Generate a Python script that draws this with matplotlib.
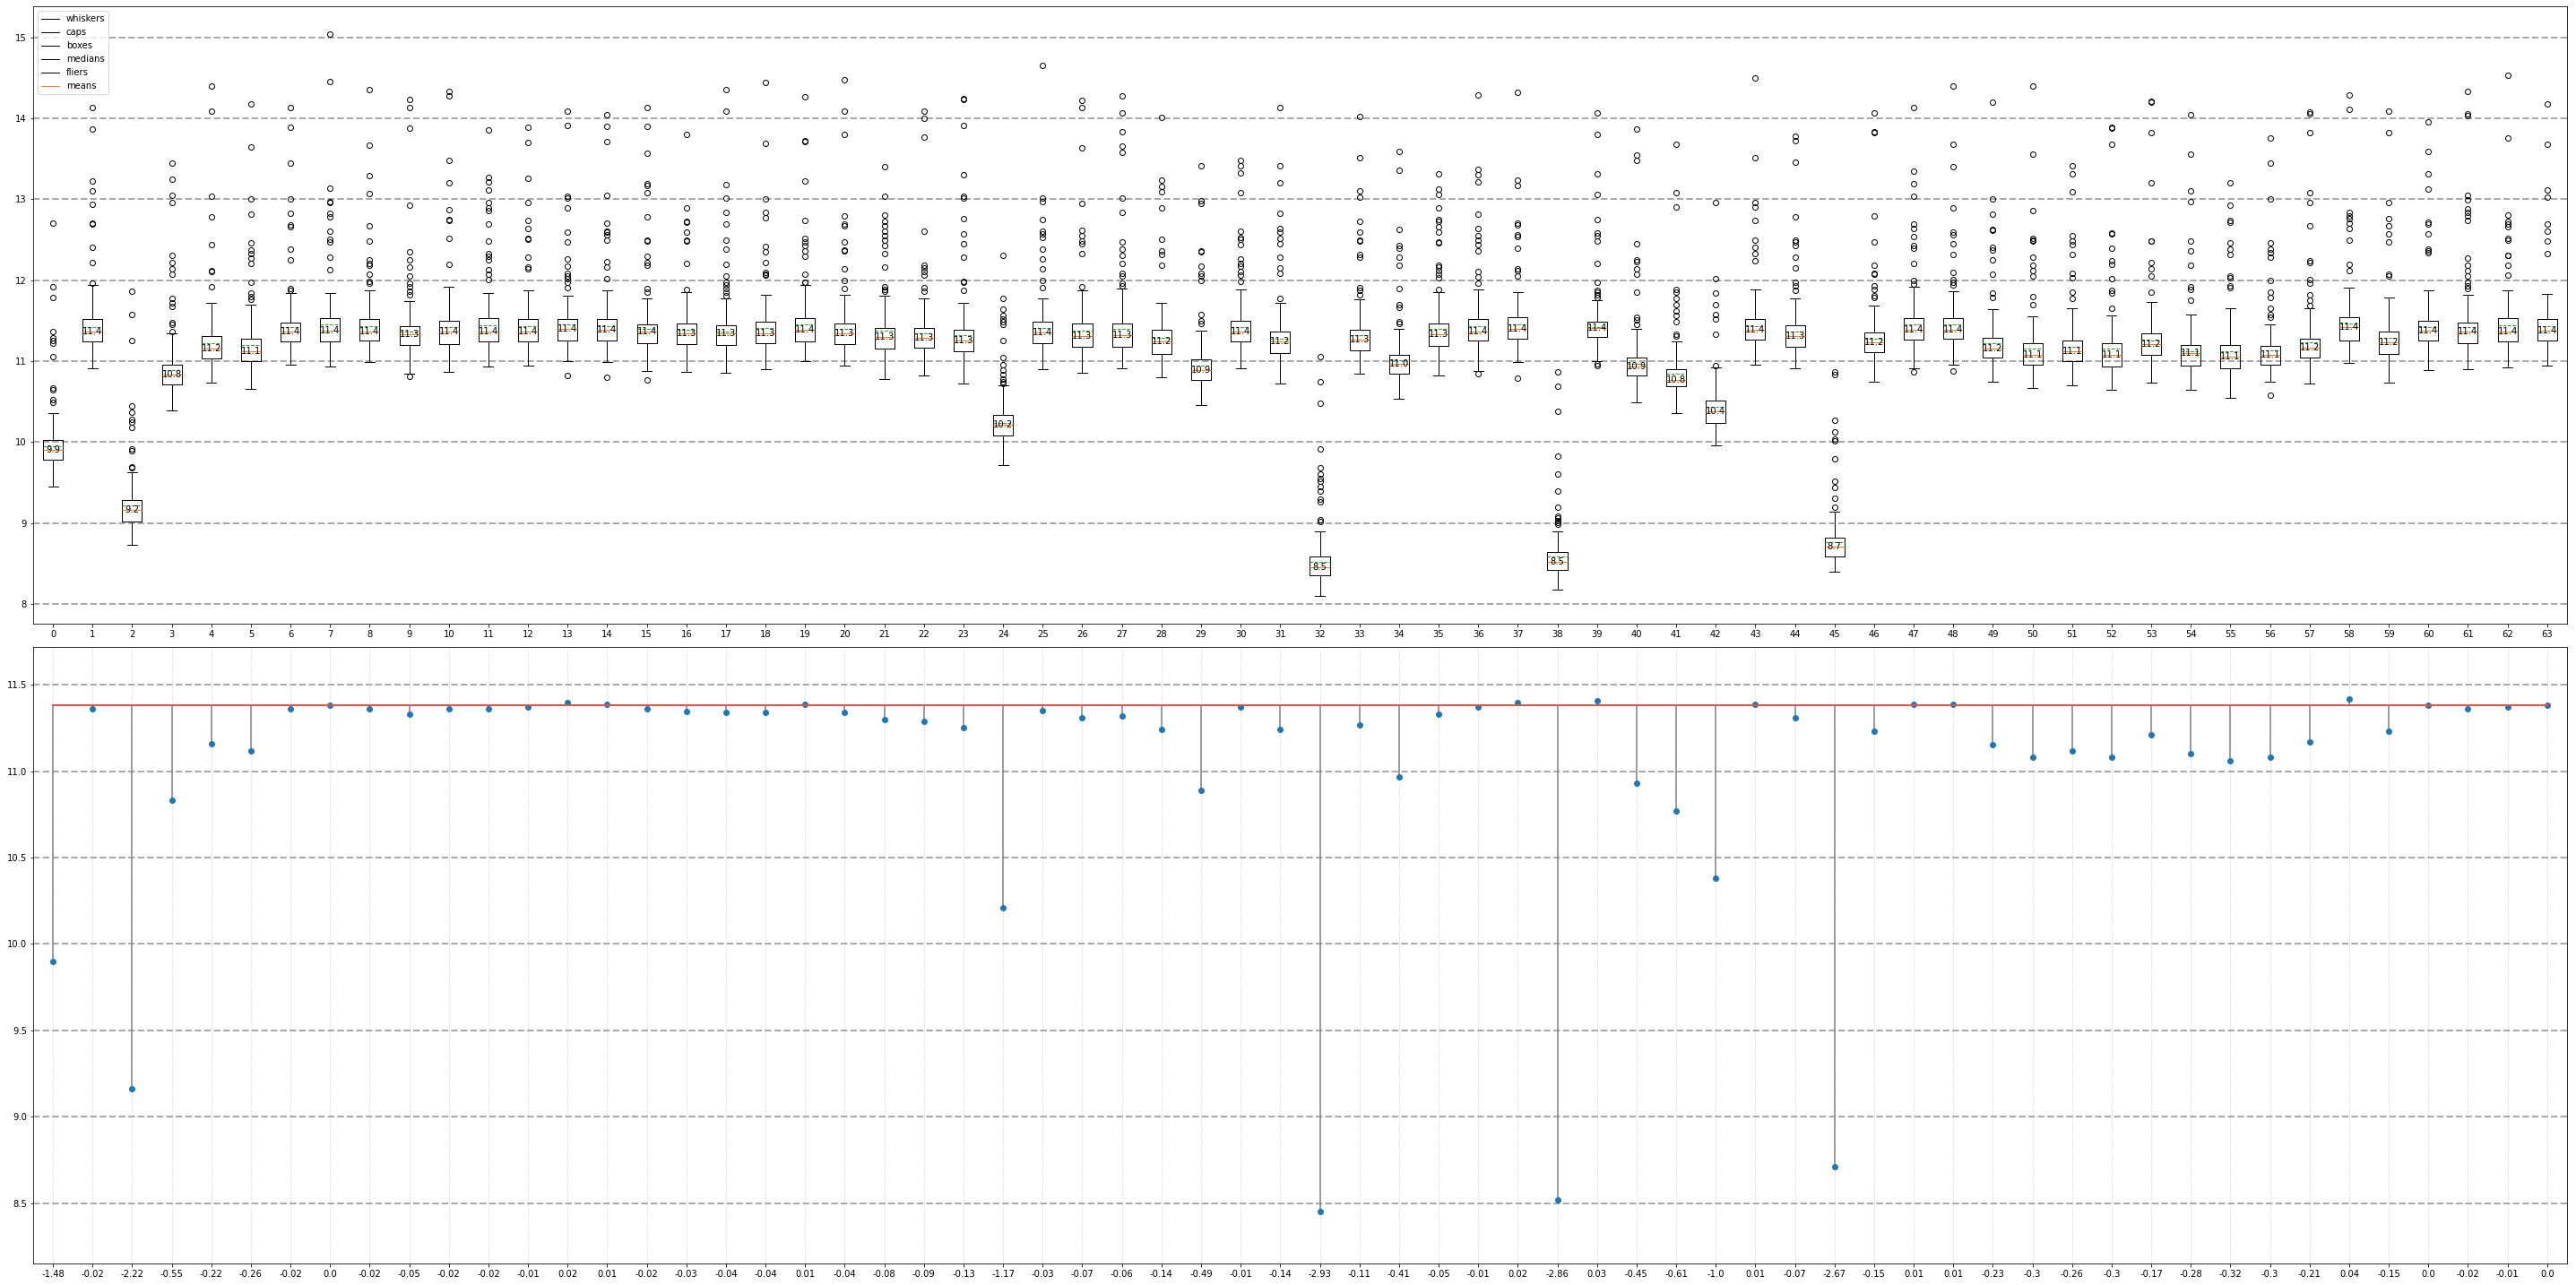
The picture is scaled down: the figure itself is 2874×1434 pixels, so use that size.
import matplotlib
matplotlib.use("Agg")
import matplotlib.pyplot as plt
from matplotlib.lines import Line2D

# per-group statistics (64 groups, labelled 0..63)
medians = [9.90, 11.36, 9.16, 10.83, 11.16, 11.12, 11.36, 11.38, 11.36, 11.33,
           11.36, 11.36, 11.37, 11.40, 11.39, 11.36, 11.348, 11.34, 11.34, 11.39,
           11.34, 11.30, 11.29, 11.252, 10.21, 11.352, 11.31, 11.32, 11.24, 10.89,
           11.37, 11.24, 8.453, 11.27, 10.97, 11.33, 11.37, 11.40, 8.52, 11.41,
           10.93, 10.77, 10.38, 11.39, 11.31, 8.71, 11.23, 11.39, 11.39, 11.152,
           11.08, 11.12, 11.08, 11.21, 11.10, 11.06, 11.08, 11.17, 11.42, 11.23,
           11.38, 11.36, 11.37, 11.38]
means = [9.95, 11.42, 9.22, 10.89, 11.22, 11.20, 11.42, 11.45, 11.43, 11.37,
         11.42, 11.44, 11.43, 11.45, 11.43, 11.40, 11.39, 11.37, 11.41, 11.45,
         11.40, 11.38, 11.34, 11.32, 10.24, 11.41, 11.38, 11.40, 11.29, 10.94,
         11.42, 11.28, 8.52, 11.32, 11.01, 11.40, 11.43, 11.45, 8.58, 11.42,
         10.97, 10.84, 10.43, 11.43, 11.36, 8.76, 11.28, 11.45, 11.45, 11.22,
         11.16, 11.18, 11.15, 11.26, 11.12, 11.12, 11.13, 11.23, 11.46, 11.29,
         11.42, 11.42, 11.44, 11.43]
q1 = [9.78, 11.24, 9.02, 10.71, 11.03, 11.00, 11.24, 11.24, 11.25, 11.20,
      11.21, 11.24, 11.24, 11.25, 11.26, 11.22, 11.21, 11.20, 11.22, 11.24,
      11.21, 11.15, 11.17, 11.12, 10.08, 11.22, 11.18, 11.18, 11.09, 10.77,
      11.24, 11.10, 8.35, 11.13, 10.85, 11.19, 11.25, 11.28, 8.42, 11.30,
      10.82, 10.69, 10.23, 11.27, 11.18, 8.59, 11.11, 11.27, 11.28, 11.04,
      10.96, 11.00, 10.93, 11.08, 10.94, 10.91, 10.96, 11.04, 11.26, 11.09,
      11.25, 11.22, 11.24, 11.26]
q3 = [10.02, 11.52, 9.28, 10.96, 11.31, 11.28, 11.48, 11.53, 11.52, 11.43,
      11.50, 11.53, 11.52, 11.52, 11.52, 11.45, 11.47, 11.44, 11.49, 11.53,
      11.47, 11.41, 11.41, 11.39, 10.33, 11.49, 11.47, 11.47, 11.39, 11.02,
      11.50, 11.37, 8.59, 11.39, 11.08, 11.46, 11.52, 11.54, 8.64, 11.49,
      11.04, 10.90, 10.51, 11.52, 11.44, 8.82, 11.35, 11.53, 11.53, 11.29,
      11.22, 11.26, 11.22, 11.34, 11.20, 11.20, 11.19, 11.28, 11.54, 11.37,
      11.50, 11.48, 11.53, 11.52]
whislo = [9.45, 10.91, 8.73, 10.39, 10.73, 10.66, 10.96, 10.93, 10.99, 10.85,
          10.87, 10.93, 10.95, 11.00, 10.99, 10.88, 10.87, 10.86, 10.90, 11.00,
          10.95, 10.78, 10.82, 10.72, 9.72, 10.90, 10.86, 10.91, 10.80, 10.46,
          10.91, 10.72, 8.10, 10.84, 10.53, 10.82, 10.88, 10.99, 8.17, 11.00,
          10.49, 10.36, 9.96, 10.96, 10.91, 8.40, 10.74, 10.91, 10.96, 10.74,
          10.67, 10.70, 10.64, 10.73, 10.64, 10.55, 10.74, 10.72, 10.98, 10.73,
          10.89, 10.90, 10.92, 10.95]
whishi = [10.36, 11.94, 9.63, 11.34, 11.72, 11.70, 11.84, 11.84, 11.87, 11.74,
          11.92, 11.84, 11.88, 11.81, 11.87, 11.78, 11.85, 11.78, 11.82, 11.94,
          11.82, 11.81, 11.77, 11.72, 10.70, 11.77, 11.87, 11.90, 11.72, 11.38,
          11.89, 11.72, 8.90, 11.76, 11.40, 11.85, 11.89, 11.85, 8.90, 11.75,
          11.40, 11.24, 10.92, 11.89, 11.78, 9.14, 11.69, 11.92, 11.86, 11.64,
          11.55, 11.65, 11.57, 11.73, 11.58, 11.65, 11.45, 11.65, 11.91, 11.79,
          11.87, 11.82, 11.87, 11.83]
fliers = [
    [12.71, 11.92, 11.79, 11.36, 11.29, 11.25, 11.22, 11.06, 10.67, 10.65, 10.52, 10.49],
    [14.14, 13.87, 13.23, 13.11, 12.94, 12.71, 12.69, 12.41, 12.22, 11.96],
    [11.86, 11.58, 11.26, 10.45, 10.37, 10.28, 10.25, 10.18, 9.91, 9.89, 9.69, 9.68],
    [13.45, 13.25, 13.05, 12.96, 12.31, 12.22, 12.14, 12.07, 11.77, 11.72, 11.68, 11.48, 11.45, 11.36],
    [14.40, 14.09, 13.04, 12.78, 12.44, 12.12, 12.11, 11.92],
    [14.18, 13.65, 13.01, 12.82, 12.46, 12.37, 12.33, 12.27, 12.21, 11.98, 11.84, 11.80, 11.76],
    [14.14, 13.89, 13.45, 13.01, 12.83, 12.68, 12.66, 12.39, 12.25, 11.90, 11.87],
    [15.04, 14.46, 13.14, 12.97, 12.96, 12.83, 12.78, 12.61, 12.51, 12.47, 12.28, 12.13],
    [14.36, 13.67, 13.29, 13.07, 12.67, 12.48, 12.25, 12.21, 12.18, 12.07, 11.99, 11.96],
    [14.23, 14.14, 13.88, 12.93, 12.35, 12.25, 12.16, 12.05, 11.96, 11.92, 11.86, 11.82, 10.81],
    [14.34, 14.28, 13.48, 13.21, 12.87, 12.75, 12.74, 12.52, 12.20],
    [13.86, 13.27, 13.22, 13.12, 12.96, 12.89, 12.86, 12.70, 12.48, 12.33, 12.30, 12.25, 12.13, 12.07, 12.01],
    [13.89, 13.70, 13.26, 12.96, 12.74, 12.64, 12.52, 12.51, 12.28, 12.16, 12.14],
    [14.09, 13.91, 13.04, 13.02, 12.90, 12.60, 12.47, 12.26, 12.17, 12.09, 12.05, 12.02, 11.97, 11.91, 10.82],
    [14.05, 13.90, 13.71, 13.05, 12.71, 12.61, 12.59, 12.56, 12.50, 12.23, 12.16, 12.02, 10.80],
    [14.14, 13.90, 13.57, 13.19, 13.17, 13.08, 12.78, 12.50, 12.48, 12.30, 12.22, 12.19, 11.90, 11.85, 10.77],
    [13.80, 12.89, 12.73, 12.72, 12.59, 12.50, 12.48, 12.21, 11.89],
    [14.36, 14.09, 13.18, 13.02, 12.84, 12.70, 12.50, 12.39, 12.20, 12.05, 11.98, 11.94, 11.90, 11.85, 11.81],
    [14.45, 13.69, 13.01, 12.84, 12.77, 12.42, 12.35, 12.22, 12.10, 12.08, 12.06],
    [14.27, 13.72, 13.71, 13.23, 12.74, 12.52, 12.47, 12.43, 12.36, 12.30, 12.08, 11.98, 11.97],
    [14.48, 14.09, 13.80, 12.79, 12.70, 12.67, 12.47, 12.37, 12.36, 12.14, 12.00, 11.90],
    [13.40, 13.04, 12.81, 12.73, 12.67, 12.61, 12.55, 12.50, 12.43, 12.33, 12.16, 11.92, 11.89, 11.86],
    [14.09, 14.00, 13.77, 12.61, 12.19, 12.15, 12.11, 12.06, 11.91, 11.86],
    [14.25, 14.23, 13.91, 13.30, 13.04, 13.02, 12.76, 12.57, 12.45, 12.29, 11.99, 11.98, 11.88],
    [12.31, 11.77, 11.64, 11.56, 11.52, 11.49, 11.45, 11.26, 11.04, 10.96, 10.89, 10.83, 10.78, 10.74, 10.72],
    [14.66, 13.02, 12.97, 12.75, 12.61, 12.57, 12.53, 12.38, 12.26, 12.14, 12.00, 11.91],
    [14.22, 14.14, 13.64, 12.95, 12.62, 12.55, 12.49, 12.45, 12.33, 11.92],
    [14.28, 14.07, 13.84, 13.66, 13.58, 13.02, 12.84, 12.47, 12.39, 12.31, 12.21, 12.09, 12.05, 11.96, 11.93],
    [14.01, 13.24, 13.16, 13.09, 12.89, 12.51, 12.36, 12.32, 12.18],
    [13.42, 12.98, 12.95, 12.36, 12.35, 12.17, 12.09, 12.05, 12.00, 11.58, 11.50, 11.46],
    [13.48, 13.42, 13.33, 13.08, 12.61, 12.53, 12.51, 12.44, 12.26, 12.21, 12.17, 12.11, 12.06, 11.99],
    [14.14, 13.42, 13.21, 12.83, 12.64, 12.60, 12.52, 12.45, 12.29, 12.15, 12.09, 11.78],
    [11.05, 10.75, 10.48, 9.91, 9.68, 9.60, 9.55, 9.52, 9.45, 9.39, 9.29, 9.26, 9.04, 9.02],
    [14.03, 13.52, 13.10, 13.03, 12.73, 12.60, 12.50, 12.49, 12.32, 12.29, 11.91, 11.88, 11.82],
    [13.59, 13.36, 12.63, 12.43, 12.40, 12.29, 12.18, 11.90, 11.70, 11.67, 11.49, 11.47],
    [13.32, 13.13, 13.06, 12.89, 12.75, 12.73, 12.66, 12.60, 12.47, 12.46, 12.19, 12.16, 12.12, 12.07, 12.03, 11.89],
    [14.29, 13.37, 13.30, 13.22, 12.82, 12.64, 12.55, 12.50, 12.44, 12.36, 12.11, 12.04, 11.96, 10.84],
    [14.32, 13.24, 13.17, 12.71, 12.68, 12.56, 12.54, 12.40, 12.14, 12.12, 12.05, 10.79],
    [10.87, 10.69, 10.38, 9.83, 9.60, 9.39, 9.19, 9.08, 9.06, 9.03, 9.01, 8.98],
    [14.07, 13.80, 13.31, 13.06, 12.75, 12.58, 12.55, 12.49, 12.21, 11.98, 11.87, 11.85, 11.82, 11.79, 10.97, 10.95],
    [13.87, 13.55, 13.48, 12.45, 12.25, 12.23, 12.14, 12.08, 11.85, 11.54, 11.51, 11.45],
    [13.68, 13.08, 12.91, 11.89, 11.85, 11.78, 11.70, 11.62, 11.57, 11.49, 11.33, 11.31],
    [12.96, 12.02, 11.84, 11.70, 11.58, 11.52, 11.33, 10.95],
    [14.50, 13.51, 12.96, 12.91, 12.74, 12.50, 12.41, 12.33, 12.24],
    [13.78, 13.72, 13.46, 12.78, 12.50, 12.47, 12.43, 12.29, 12.15, 11.97, 11.93, 11.88],
    [10.87, 10.83, 10.27, 10.13, 10.04, 10.01, 9.79, 9.51, 9.44, 9.31, 9.19],
    [14.07, 13.84, 13.82, 12.80, 12.47, 12.19, 12.09, 12.08, 11.93, 11.89, 11.81, 11.79],
    [14.14, 13.35, 13.19, 13.04, 12.69, 12.64, 12.54, 12.43, 12.40, 12.21, 12.00, 11.95, 10.87],
    [14.40, 13.68, 13.40, 12.90, 12.60, 12.56, 12.45, 12.32, 12.10, 12.01, 11.97, 11.94, 10.88],
    [14.20, 13.01, 12.82, 12.63, 12.62, 12.41, 12.37, 12.25, 12.07, 11.84, 11.79],
    [14.40, 13.56, 12.86, 12.52, 12.50, 12.48, 12.28, 12.19, 12.12, 12.05, 11.80, 11.70],
    [13.42, 13.32, 13.09, 12.55, 12.48, 12.44, 12.32, 12.09, 12.03, 11.85, 11.77],
    [13.89, 13.88, 13.68, 12.58, 12.57, 12.40, 12.24, 12.20, 12.02, 11.87, 11.84, 11.65],
    [14.21, 14.20, 13.83, 13.20, 12.49, 12.48, 12.22, 12.14, 12.05, 11.85],
    [14.05, 13.56, 13.11, 12.97, 12.49, 12.36, 12.18, 11.92, 11.89, 11.75],
    [13.21, 12.93, 12.74, 12.72, 12.46, 12.39, 12.32, 12.05, 12.03, 11.93, 11.91],
    [13.76, 13.45, 13.01, 12.46, 12.38, 12.34, 12.29, 12.00, 11.85, 11.79, 11.65, 11.58, 11.54, 10.58],
    [14.08, 14.06, 13.82, 13.08, 12.96, 12.67, 12.24, 12.22, 12.01, 11.96, 11.82, 11.75, 11.69],
    [14.29, 14.11, 12.84, 12.79, 12.76, 12.71, 12.64, 12.50, 12.20, 12.12],
    [14.09, 13.82, 12.96, 12.76, 12.67, 12.57, 12.47, 12.07, 12.05],
    [13.96, 13.59, 13.31, 13.13, 12.72, 12.70, 12.57, 12.38, 12.36, 12.34],
    [14.33, 14.06, 14.04, 13.05, 12.99, 12.88, 12.84, 12.79, 12.74, 12.27, 12.19, 12.12, 12.05, 11.97, 11.93, 11.90],
    [14.53, 13.76, 12.81, 12.73, 12.70, 12.66, 12.52, 12.50, 12.31, 12.31, 12.19, 12.06],
    [14.18, 13.68, 13.12, 13.03, 12.70, 12.61, 12.49, 12.33],
]
baseline = 11.38
group_labels = [str(i) for i in range(64)]
legend_labels = ['whiskers', 'caps', 'boxes', 'medians', 'fliers', 'means']

stats = []
for i in range(len(medians)):
    stats.append(dict(med=medians[i], q1=q1[i], q3=q3[i], whislo=whislo[i],
                      whishi=whishi[i], mean=means[i], fliers=fliers[i]))

positions = list(range(1, len(medians) + 1))
diff_labels = [str(round(m - baseline, 2) + 0.0) for m in medians]

fig = plt.figure(figsize=(2874 / 72, 1434 / 72), dpi=72)
ax1 = fig.add_axes([0.01287, 0.5146, 0.9836, 0.4805])
ax2 = fig.add_axes([0.01287, 0.01674, 0.9836, 0.4798])

# top: boxplots
ax1.bxp(stats, positions=positions, showmeans=True, meanline=True)
for p, m in zip(positions, medians):
    ax1.text(p, m, f"{m:.1f}", ha='center', va='center', fontsize=10)
ax1.set_xticks(positions)
ax1.set_xticklabels(group_labels)
ax1.set_xlim(0.5, 64.5)
ax1.yaxis.grid(True, linestyle='--', linewidth=2, color='darkgray')
ax1.set_axisbelow(True)
handles = [Line2D([], [], color='black', lw=1) for _ in range(5)]
handles.append(Line2D([], [], color='C1', lw=1))
ax1.legend(handles, legend_labels, loc='upper left')

# bottom: medians as stems around the overall level
markerline, stemlines, baseline_line = ax2.stem(positions, medians, bottom=baseline)
stemlines.set_color('gray')
stemlines.set_linewidth(1.5)
baseline_line.set_color('#d9534f')
baseline_line.set_linewidth(2)
ax2.set_xticks(positions)
ax2.set_xticklabels(diff_labels)
ax2.set_xlim(0.5, 64.5)
ax2.set_ylim(8.15, 11.72)
ax2.yaxis.grid(True, linestyle='--', linewidth=2, color='darkgray')
ax2.xaxis.grid(True, linestyle='--', linewidth=0.6, color='lightgray')
ax2.set_axisbelow(True)

fig.savefig('out.png', dpi=72)
